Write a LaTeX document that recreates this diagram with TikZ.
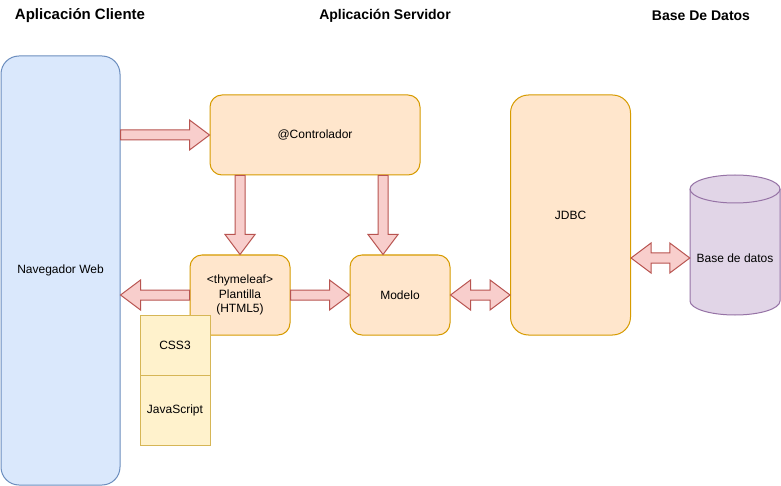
\documentclass[tikz,border=0pt]{standalone}
\usepackage{fontspec}
\setmainfont{Liberation Sans}
\usetikzlibrary{calc}
\definecolor{navfill}{HTML}{DAE8FC}
\definecolor{navline}{HTML}{6C8EBF}
\definecolor{orfill}{HTML}{FFE6CC}
\definecolor{orline}{HTML}{D79B00}
\definecolor{yefill}{HTML}{FFF2CC}
\definecolor{yeline}{HTML}{D6B656}
\definecolor{pufill}{HTML}{E1D5E7}
\definecolor{puline}{HTML}{9673A6}
\definecolor{arfill}{HTML}{F8CECC}
\definecolor{arline}{HTML}{B85450}
\newcommand\blockarrow[2]{%
  \coordinate (bh) at ($(#2)!20pt!(#1)$);
  \draw[barrow] ($(#1)!5pt!90:(#2)$) -- ($(bh)!5pt!90:(#2)$) -- ($(bh)!15pt!90:(#2)$) -- (#2)
    -- ($(bh)!15pt!-90:(#2)$) -- ($(bh)!5pt!-90:(#2)$) -- ($(#1)!5pt!-90:(#2)$) -- cycle;}
\newcommand\dblarrow[2]{%
  \coordinate (bh1) at ($(#1)!20pt!(#2)$);
  \coordinate (bh2) at ($(#2)!20pt!(#1)$);
  \draw[barrow] (#1) -- ($(bh1)!15pt!90:(#2)$) -- ($(bh1)!5pt!90:(#2)$) -- ($(bh2)!5pt!-90:(#1)$)
    -- ($(bh2)!15pt!-90:(#1)$) -- (#2) -- ($(bh2)!15pt!90:(#1)$) -- ($(bh2)!5pt!90:(#1)$)
    -- ($(bh1)!5pt!-90:(#2)$) -- ($(bh1)!15pt!-90:(#2)$) -- cycle;}
\begin{document}
\begin{tikzpicture}[x=1pt,y=-1pt,
  txt/.style={font=\fontsize{12}{14.5}\selectfont, align=center, inner sep=0pt},
  title/.style={font=\fontsize{14}{16}\selectfont\bfseries, inner sep=0pt},
  obox/.style={txt, draw=orline, fill=orfill, line width=1pt, rounded corners=12pt},
  ybox/.style={txt, draw=yeline, fill=yefill, line width=1pt, minimum width=70pt, minimum height=60pt},
  barrow/.style={draw=arline, fill=arfill, line width=1pt, line join=miter}]
\useasboundingbox (0,0) rectangle (781,486);
\fill[white] (0,0) rectangle (781,486);
% titles
\node[title, font=\fontsize{15}{17}\selectfont\bfseries] (t1) at (80,16) {Aplicación Cliente};
\node[title] (t2) at (385,16) {Aplicación Servidor};
\node[title] (t3) at (701,16) {Base De Datos};
% boxes
\node[txt, draw=navline, fill=navfill, line width=1pt, rounded corners=18pt,
  minimum width=119pt, minimum height=429pt] (nav) at (60.5,270.5) {Navegador Web};
\node[obox, minimum width=210pt, minimum height=80pt] (ctrl) at (315,135) {@Controlador};
\node[obox, minimum width=100pt, minimum height=80pt] (plant) at (240,295) {<thymeleaf>\\Plantilla\\(HTML5)};
\node[obox, minimum width=100pt, minimum height=80pt] (model) at (400,295) {Modelo};
\node[obox, rounded corners=18pt, minimum width=120pt, minimum height=240pt] (jdbc) at (570.5,215) {};
\node[txt] (jdbct) at (570.5,215) {JDBC};
% cylinder
\draw[draw=puline, fill=pufill, line width=1pt]
  (690,189) -- (690,301) arc[start angle=180, end angle=0, x radius=45, y radius=14]
  -- (780,189) arc[start angle=0, end angle=-180, x radius=45, y radius=14] -- cycle;
\draw[draw=puline, line width=1pt] (690,189) arc[start angle=180, end angle=0, x radius=45, y radius=14];
\node[txt, minimum width=90pt, minimum height=112pt] (db) at (735,258) {Base de datos};
% arrows
\coordinate (a1s) at (nav.east |- ctrl.west);
\blockarrow{a1s}{ctrl.west}
\coordinate (a2e) at (nav.east |- plant.west);
\blockarrow{plant.west}{a2e}
\coordinate (a3s) at (ctrl.south -| plant.north);
\blockarrow{a3s}{plant.north}
\coordinate (a4e) at ($(model.north)+(-17,0)$);
\coordinate (a4s) at (ctrl.south -| a4e);
\blockarrow{a4s}{a4e}
\blockarrow{plant.east}{model.west}
\coordinate (a6e) at (jdbc.west |- model.east);
\dblarrow{model.east}{a6e}
\coordinate (a7s) at (jdbc.east |- db.west);
\dblarrow{a7s}{db.west}
% css / js
\node[ybox] (css) at (175,345.5) {CSS3};
\node[ybox, minimum height=70pt] (js) at (175,410.5) {JavaScript};
\end{tikzpicture}
\end{document}
